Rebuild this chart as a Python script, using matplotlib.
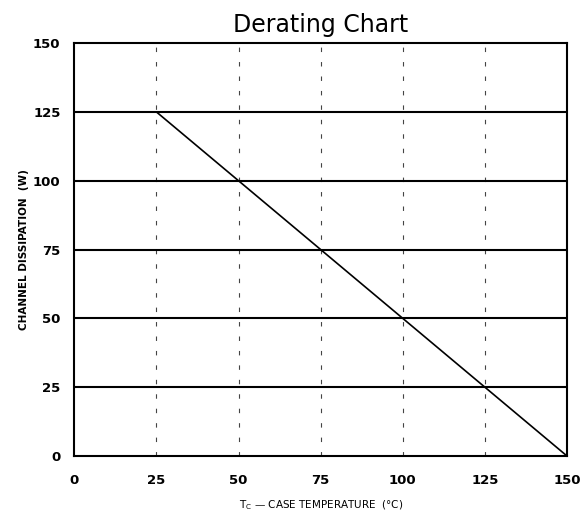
import matplotlib.pyplot as plt

# Derating curve
temp = [0, 25, 150]
power = [125, 125, 0]

x_ticks = [0, 25, 50, 75, 100, 125, 150]
y_ticks = [0, 25, 50, 75, 100, 125, 150]
grid_x = [25, 50, 75, 100, 125]
grid_y = [25, 50, 75, 100, 125]

fig = plt.figure(figsize=(5.81, 5.20), dpi=100)
ax = fig.add_axes([0.128, 0.123, 0.848, 0.794])

# dashed vertical grid, solid horizontal grid
for gx in grid_x:
    ax.axvline(gx, color='#444444', lw=0.8, linestyle=(0, (4, 9)))
for gy in grid_y:
    ax.axhline(gy, color='black', lw=1.5)

ax.plot(temp, power, color='black', lw=1.2)

ax.set_xlim(0, 150)
ax.set_ylim(0, 150)
ax.set_xticks(x_ticks)
ax.set_yticks(y_ticks)
ax.tick_params(length=0, labelsize=9.5)
ax.tick_params(axis='x', pad=13)
ax.tick_params(axis='y', pad=10)
for lbl in ax.get_xticklabels() + ax.get_yticklabels():
    lbl.set_fontweight('bold')
for s in ax.spines.values():
    s.set_linewidth(1.5)

ax.set_title('Derating Chart', fontsize=17, pad=8)
ax.set_xlabel(r'T$_\mathregular{C}$ — CASE TEMPERATURE  (°C)', fontsize=7.5, labelpad=8)
ax.set_ylabel('CHANNEL DISSIPATION  (W)', fontsize=7.5, fontweight='bold', labelpad=3)

plt.savefig('out.png')
